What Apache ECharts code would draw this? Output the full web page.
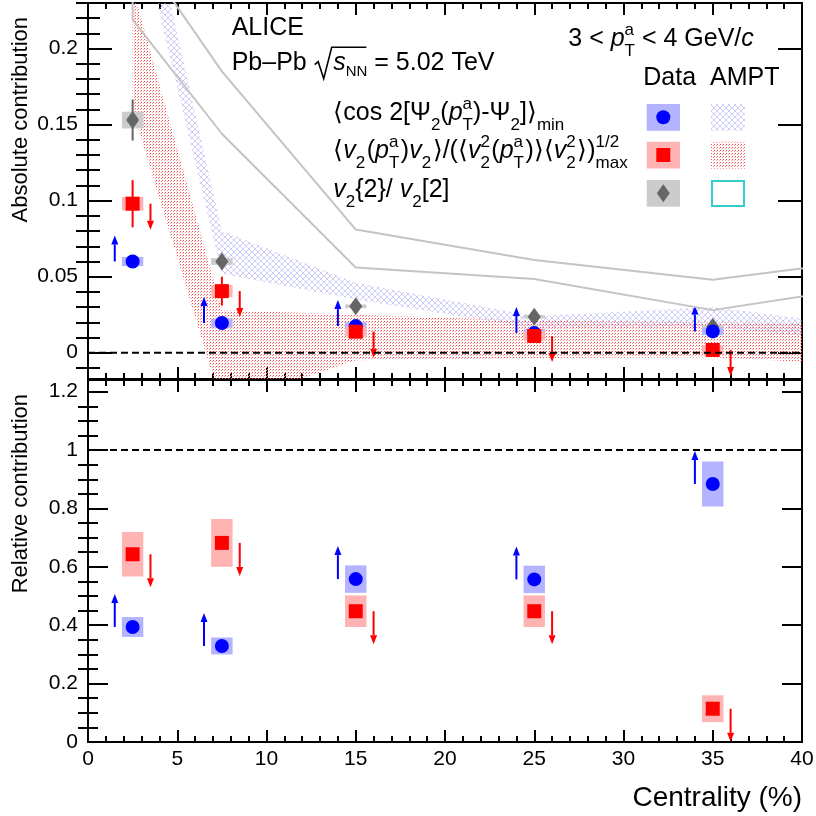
<!DOCTYPE html>
<html>
<head>
<meta charset="utf-8">
<script src="https://cdn.jsdelivr.net/npm/echarts@6/dist/echarts.min.js"></script>
<style>
  html, body { margin: 0; padding: 0; background: #fff; }
  #main { width: 816px; height: 816px; }
</style>
</head>
<body>
<div id="main"></div>
<script>
// ---- data ----
var centrality = [2.5, 7.5, 15, 25, 35];

// absolute contribution (top panel)
var cosAbs = [0.060, 0.0195, 0.0175, 0.013, 0.014];
var cosAbsStat = [0.0015, 0.0015, 0.0015, 0.0015, 0.0015];
var cosAbsSys = [0.003, 0.003, 0.0025, 0.0025, 0.0025];
var rhoAbs = [0.098, 0.0405, 0.0138, 0.011, 0.0018];
var rhoAbsStat = [0.0155, 0.0095, 0.004, 0.004, 0.004];
var rhoAbsSys = [0.0045, 0.004, 0.003, 0.003, 0.003];
var ratioAbs = [0.153, 0.060, 0.0305, 0.0237, 0.017];
var ratioAbsStat = [0.0135, 0.004, 0.002, 0.002, 0.002];
var ratioAbsSys = [0.0055, 0.0022, 0.0012, 0.0012, 0.0012];

// relative contribution (bottom panel)
var cosRel = [0.394, 0.329, 0.558, 0.557, 0.884];
var cosRelSys = [0.034, 0.029, 0.047, 0.047, 0.077];
var rhoRel = [0.643, 0.682, 0.448, 0.448, 0.114];
var rhoRelSys = [0.076, 0.082, 0.054, 0.054, 0.046];

// AMPT bands
var amptX = [2.5, 7.5, 15, 25, 35, 45];
var amptCosLo = [0.297, 0.052, 0.035, 0.016, 0.017, 0.005];
var amptCosHi = [0.339, 0.080, 0.046, 0.024, 0.030, 0.015];
var amptRhoLo = [0.16, -0.035, -0.005, -0.0035, -0.003, -0.009];
var amptRhoHi = [0.24, 0.028, 0.025, 0.021, 0.020, 0.019];
var amptRatioLo = [0.219, 0.144, 0.056, 0.0485, 0.028, 0.046];
var amptRatioHi = [0.27, 0.185, 0.081, 0.061, 0.048, 0.063];

// axes
var xTicks = [0, 5, 10, 15, 20, 25, 30, 35, 40];
var absTicks = [0, 0.05, 0.1, 0.15, 0.2];
var relTicks = [0, 0.2, 0.4, 0.6, 0.8, 1, 1.2];
var absRange = [-0.0173, 0.23];
var relRange = [0, 1.24];
var absRef = 0;
var relRef = 1;

// ---- styling ----
var FONT = '"Liberation Sans", Arial, Helvetica, sans-serif';
var BLUE = '#0000ff', BLUE_BOX = '#b3b3ff';
var RED = '#ff0000', RED_BOX = '#ffb3b3';
var GREY = '#666666', GREY_BOX = '#cccccc';

function makePattern(size, draw) {
  var c = document.createElement('canvas');
  c.width = c.height = size;
  draw(c.getContext('2d'));
  return { image: c, repeat: 'repeat' };
}
var redDots = makePattern(3, function (g) {
  g.fillStyle = '#ff4444'; g.fillRect(0, 0, 1, 1);
  g.fillStyle = '#ff9999'; g.fillRect(2, 1, 1, 1);
});
var blueHatch = makePattern(6, function (g) {
  g.strokeStyle = 'rgba(150,150,240,0.48)';
  g.lineWidth = 1;
  g.beginPath();
  g.moveTo(0, 0); g.lineTo(6, 6);
  g.moveTo(6, 0); g.lineTo(0, 6);
  g.stroke();
});

// minor tick positions
function minors(lo, hi, step, majors) {
  var out = [];
  for (var i = Math.ceil(lo / step); i * step <= hi; i++) {
    var v = Math.round(i * step * 1e6) / 1e6;
    if (majors.indexOf(v) < 0) out.push(v);
  }
  return out;
}
var absMinor = minors(absRange[0], absRange[1], 0.01, absTicks);
var relMinor = minors(relRange[0], relRange[1], 0.05, relTicks);

var tickLine = { color: '#000', width: 2 };
var frame = { show: true, onZero: false, lineStyle: { color: '#000', width: 2 } };

function xAx(grid, pos, labels) {
  return {
    type: 'value', gridIndex: grid, position: pos, min: 0, max: 40, interval: 5,
    axisLine: frame,
    axisTick: { show: true, inside: true, length: 12, lineStyle: tickLine },
    minorTick: { show: true, splitNumber: 5, length: 6, lineStyle: tickLine },
    axisLabel: { show: labels, color: '#000', fontFamily: FONT, fontSize: 21, margin: 7 },
    splitLine: { show: false }, minorSplitLine: { show: false }
  };
}
function yAx(grid, pos, range, ticks, len, labels, line) {
  return {
    type: 'value', gridIndex: grid, position: pos, min: range[0], max: range[1],
    axisLine: line ? frame : { show: false },
    axisTick: { show: true, inside: true, length: len, customValues: ticks, lineStyle: tickLine },
    axisLabel: { show: labels, customValues: ticks, color: '#000', fontFamily: FONT, fontSize: 21, margin: 10 },
    splitLine: { show: false }
  };
}

// ---- series builders ----
function zip(xs, ys, es) {
  return xs.map(function (x, i) { return es ? [x, ys[i], es[i]] : [x, ys[i]]; });
}
function bandSeries(lo, hi, fill) {
  return {
    type: 'custom', xAxisIndex: 0, yAxisIndex: 0, clip: true, silent: true,
    data: [0],
    renderItem: function (params, api) {
      var pts = [];
      for (var i = 0; i < amptX.length; i++) pts.push(api.coord([amptX[i], hi[i]]));
      for (var j = amptX.length - 1; j >= 0; j--) pts.push(api.coord([amptX[j], lo[j]]));
      return { type: 'polygon', shape: { points: pts }, style: { fill: fill } };
    }
  };
}
function outlineSeries(lo, hi) {
  var pts = [];
  for (var j = amptX.length - 1; j >= 0; j--) pts.push([amptX[j], hi[j]]);
  for (var i = 0; i < amptX.length; i++) pts.push([amptX[i], lo[i]]);
  return {
    type: 'line', xAxisIndex: 0, yAxisIndex: 0, data: pts, symbol: 'none', silent: true,
    clip: true, lineStyle: { color: '#c4c4c4', width: 2 }
  };
}
function refLine(ax, ay, level) {
  return {
    type: 'line', xAxisIndex: ax, yAxisIndex: ay, data: [[0, level], [40, level]],
    symbol: 'none', silent: true, lineStyle: { color: '#000', width: 2, type: [7, 4] }
  };
}
function boxSeries(ax, ay, ys, es, color) {
  return {
    type: 'custom', xAxisIndex: ax, yAxisIndex: ay, clip: true, silent: true,
    data: zip(centrality, ys, es),
    renderItem: function (params, api) {
      var x = api.value(0), y = api.value(1), e = api.value(2);
      var a = api.coord([x - 0.6, y + e]), b = api.coord([x + 0.6, y - e]);
      return { type: 'rect', shape: { x: a[0], y: a[1], width: b[0] - a[0], height: b[1] - a[1] }, style: { fill: color } };
    }
  };
}
function statSeries(ax, ay, ys, es, color) {
  return {
    type: 'custom', xAxisIndex: ax, yAxisIndex: ay, clip: true, silent: true,
    data: zip(centrality, ys, es),
    renderItem: function (params, api) {
      var x = api.value(0), y = api.value(1), e = api.value(2);
      var a = api.coord([x, y + e]), b = api.coord([x, y - e]);
      return { type: 'line', shape: { x1: a[0], y1: a[1], x2: b[0], y2: b[1] }, style: { stroke: color, lineWidth: 2 } };
    }
  };
}
function markSeries(ax, ay, ys, symbol, size, color) {
  return {
    type: 'scatter', xAxisIndex: ax, yAxisIndex: ay, data: zip(centrality, ys),
    symbol: symbol, symbolSize: size, silent: true, itemStyle: { color: color, opacity: 1 }
  };
}
function arrowSeries(ax, ay, ys, dx, dir, len, color) {
  return {
    type: 'custom', xAxisIndex: ax, yAxisIndex: ay, clip: true, silent: true,
    data: centrality.map(function (c, i) { return [c + dx, ys[i]]; }),
    renderItem: function (params, api) {
      var p = api.coord([api.value(0), api.value(1)]);
      var tip = p[1] + dir * len, head = 9, hw = 3.5;
      var base = tip - dir * head;
      return {
        type: 'group', children: [
          { type: 'line', shape: { x1: p[0], y1: p[1], x2: p[0], y2: base }, style: { stroke: color, lineWidth: 2 } },
          { type: 'polygon', shape: { points: [[p[0] - hw, base], [p[0] + hw, base], [p[0], tip]] }, style: { fill: color } }
        ]
      };
    }
  };
}

// ---- math-ish text laid out piece by piece ----
var ctx2d = document.createElement('canvas').getContext('2d');
function fnt(p) { return (p.it ? 'italic ' : '') + p.s + 'px ' + FONT; }
function N(t) { return { t: t, s: 25 }; }
function I(t) { return { t: t, s: 25, it: true }; }
function SB(t) { return { t: t, s: 17, dy: 9 }; }
function SP(t, stack) { return { t: t, s: 17, dy: -12, stack: stack }; }
function mathText(x0, base, parts, out) {
  var x = x0, stackW = 0, xs = [];
  parts.forEach(function (p) {
    xs.push(x);
    if (p.gap) { x += p.gap; return; }
    ctx2d.font = fnt(p);
    var w = ctx2d.measureText(p.t).width;
    out.push({
      type: 'text', silent: true,
      style: { text: p.t, x: x, y: base + (p.dy || 0) - 0.3465 * p.s, font: fnt(p), fill: '#000', align: 'left', verticalAlign: 'middle' }
    });
    if (p.stack) { stackW = w; } else { x += Math.max(w, stackW) + (p.pad || 0); stackW = 0; }
  });
  xs.push(x);
  return xs;
}
function P(p) { p.pad = 1.5; return p; }

var g = [];
mathText(231.7, 36.7, [N('ALICE')], g);
var pb = mathText(231.7, 71.7, [N('Pb\u2013Pb '), { gap: 19.5 }, I('s'), { t: 'NN', s: 15, dy: 5 }, N(' = 5.02 TeV')], g);
var sx = pb[1], sb = 71.7;
g.push({
  type: 'polyline', silent: true,
  shape: { points: [[sx + 1, sb - 7], [sx + 4.5, sb - 10], [sx + 10, sb + 7], [sx + 18, sb - 24.5], [pb[4] - 1, sb - 24.5]] },
  style: { stroke: '#000', lineWidth: 1.6, fill: null }
});
mathText(568.3, 48, [N('3 < '), I('p'), SP('a', true), SB('T'), N(' < 4 GeV/'), I('c')], g);
mathText(643.3, 86.7, [N('Data')], g);
mathText(710, 86.7, [N('AMPT')], g);
mathText(333.3, 122, [N('\u27e8cos 2[\u03a8'), SB('2'), N('('), I('p'), SP('a', true), SB('T'), N(')-\u03a8'), SB('2'), N(']\u27e9'), SB('min')], g);
mathText(333.3, 160, [N('\u27e8'), I('v'), P(SB('2')), N('('), I('p'), SP('a', true), P(SB('T')), N(')'), I('v'), P(SB('2')),
  N('\u27e9/(\u27e8'), I('v'), SP('2', true), P(SB('2')), N('('), I('p'), SP('a', true), P(SB('T')), N(')\u27e9\u27e8'),
  I('v'), SP('2', true), P(SB('2')), N('\u27e9)'), SP('1/2', true), SB('max')], g);
mathText(333.3, 199, [I('v'), SB('2'), N('{2}/ '), I('v'), SB('2'), N('[2]')], g);

// legend boxes
g.push({ type: 'rect', silent: true, shape: { x: 646.7, y: 104, width: 33.3, height: 26.7 }, style: { fill: BLUE_BOX } });
g.push({ type: 'circle', silent: true, shape: { cx: 663.3, cy: 117.3, r: 7 }, style: { fill: BLUE } });
g.push({ type: 'rect', silent: true, shape: { x: 646.7, y: 141.7, width: 33.3, height: 26.7 }, style: { fill: RED_BOX } });
g.push({ type: 'rect', silent: true, shape: { x: 656.3, y: 148, width: 14, height: 14 }, style: { fill: RED } });
g.push({ type: 'rect', silent: true, shape: { x: 646.7, y: 180, width: 33.3, height: 26.7 }, style: { fill: GREY_BOX } });
g.push({ type: 'polygon', silent: true, shape: { points: [[663.3, 184.3], [669.8, 193.3], [663.3, 202.3], [656.8, 193.3]] }, style: { fill: GREY } });
g.push({ type: 'rect', silent: true, shape: { x: 711, y: 104, width: 34, height: 26.7 }, style: { fill: blueHatch } });
g.push({ type: 'rect', silent: true, shape: { x: 711, y: 141.7, width: 34, height: 26.7 }, style: { fill: redDots } });
g.push({ type: 'rect', silent: true, shape: { x: 712, y: 181, width: 32, height: 25 }, style: { fill: null, stroke: '#33cccc', lineWidth: 2 } });

// axis titles
g.push({ type: 'text', silent: true, x: 21, y: 17, rotation: Math.PI / 2,
  style: { text: 'Absolute contribution', font: '22px ' + FONT, fill: '#000', align: 'right', verticalAlign: 'middle' } });
g.push({ type: 'text', silent: true, x: 21, y: 394, rotation: Math.PI / 2,
  style: { text: 'Relative contribution', font: '22px ' + FONT, fill: '#000', align: 'right', verticalAlign: 'middle' } });
g.push({ type: 'text', silent: true,
  style: { text: 'Centrality (%)', x: 802, y: 808 - 0.3465 * 28, font: '28px ' + FONT, fill: '#000', align: 'right', verticalAlign: 'middle' } });

var chart = echarts.init(document.getElementById('main'), null, { renderer: 'canvas' });
chart.setOption({
  animation: false,
  backgroundColor: '#fff',
  grid: [
    { left: 88, top: 3, width: 714, height: 376, outerBoundsMode: 'none', containLabel: false },
    { left: 88, top: 380, width: 714, height: 362, outerBoundsMode: 'none', containLabel: false }
  ],
  xAxis: [xAx(0, 'bottom', false), xAx(0, 'top', false), xAx(1, 'bottom', true), xAx(1, 'top', false)],
  yAxis: [
    yAx(0, 'left', absRange, absTicks, 24, true, true),
    yAx(0, 'left', absRange, absMinor, 12, false, false),
    yAx(0, 'right', absRange, absTicks, 24, false, true),
    yAx(0, 'right', absRange, absMinor, 12, false, false),
    yAx(1, 'left', relRange, relTicks, 20, true, true),
    yAx(1, 'left', relRange, relMinor, 10, false, false),
    yAx(1, 'right', relRange, relTicks, 20, false, true),
    yAx(1, 'right', relRange, relMinor, 10, false, false)
  ],
  graphic: g,
  series: [
    bandSeries(amptCosLo, amptCosHi, blueHatch),
    bandSeries(amptRhoLo, amptRhoHi, redDots),
    outlineSeries(amptRatioLo, amptRatioHi),
    refLine(0, 0, absRef),
    boxSeries(0, 0, ratioAbs, ratioAbsSys, GREY_BOX),
    boxSeries(0, 0, cosAbs, cosAbsSys, BLUE_BOX),
    boxSeries(0, 0, rhoAbs, rhoAbsSys, RED_BOX),
    statSeries(0, 0, ratioAbs, ratioAbsStat, GREY),
    statSeries(0, 0, cosAbs, cosAbsStat, BLUE),
    statSeries(0, 0, rhoAbs, rhoAbsStat, RED),
    markSeries(0, 0, ratioAbs, 'diamond', [13, 18], GREY),
    markSeries(0, 0, cosAbs, 'circle', 14, BLUE),
    markSeries(0, 0, rhoAbs, 'rect', 14, RED),
    arrowSeries(0, 0, cosAbs, -1, -1, 26, BLUE),
    arrowSeries(0, 0, rhoAbs, 1, 1, 26, RED),

    refLine(2, 4, relRef),
    boxSeries(2, 4, cosRel, cosRelSys, BLUE_BOX),
    boxSeries(2, 4, rhoRel, rhoRelSys, RED_BOX),
    markSeries(2, 4, cosRel, 'circle', 14, BLUE),
    markSeries(2, 4, rhoRel, 'rect', 14, RED),
    arrowSeries(2, 4, cosRel, -1, -1, 33, BLUE),
    arrowSeries(2, 4, rhoRel, 1, 1, 33, RED)
  ]
});
</script>
</body>
</html>
